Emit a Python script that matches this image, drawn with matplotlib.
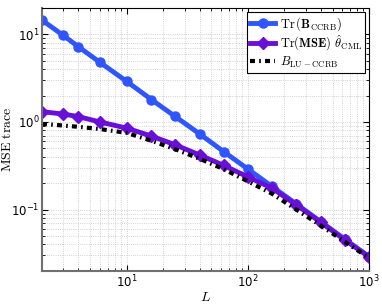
import matplotlib
matplotlib.use("Agg")
import matplotlib.pyplot as plt
from matplotlib.font_manager import FontProperties

# numero de amostras L
L = [2, 3, 4, 6, 10, 16, 25, 40, 63, 100, 158, 251, 398, 631, 1000]
# Tr(B_CCRB)
tr_ccrb = [14.5, 9.7, 7.2, 4.8, 2.9, 1.8, 1.16, 0.73, 0.46, 0.29,
           0.184, 0.116, 0.073, 0.046, 0.029]
# Tr(MSE) do estimador CML
tr_mse_cml = [1.31, 1.23, 1.15, 1.0, 0.85, 0.69, 0.55, 0.42, 0.32, 0.236,
              0.176, 0.113, 0.072, 0.045, 0.029]
# limite LU-CCRB
b_lu_ccrb = [0.95, 0.91, 0.88, 0.83, 0.75, 0.61, 0.49, 0.38, 0.29, 0.21,
             0.152, 0.100, 0.066, 0.043, 0.028]

fig = plt.figure(figsize=(3.82, 3.05), dpi=100)
ax = fig.add_axes([0.110, 0.112, 0.856, 0.862])

ax.plot(L, tr_ccrb, color="#2f55ff", lw=3.5, marker="o", ms=6.5,
        label=r"$\mathrm{Tr}\,(\mathbf{B}_{\mathrm{CCRB}})$")
ax.plot(L, tr_mse_cml, color="#6a0fd6", lw=3.5, marker="D", ms=6,
        label=r"$\mathrm{Tr}(\mathbf{MSE})\ \hat{\mathbf{\theta}}_{\mathrm{CML}}$")
ax.plot(L, b_lu_ccrb, color="black", lw=3, linestyle=(0, (1.2, 1.0, 0.4, 1.0)),
        label=r"$B_{\mathrm{LU-CCRB}}$")

ax.set_xscale("log")
ax.set_yscale("log")
ax.set_xlim(2, 1000)
ax.set_ylim(0.02, 20)

ax.grid(True, which="both", linestyle=":", color="#c4c4c4", lw=0.6)
ax.tick_params(which="both", direction="in", top=True, right=True, labelsize=8.5, pad=2)
ax.tick_params(which="major", length=4)
ax.tick_params(which="minor", length=2)
for s in ax.spines.values():
    s.set_linewidth(0.8)
ax.spines["left"].set_color("#707070")
ax.spines["left"].set_linewidth(1.5)
ax.spines["bottom"].set_color("#707070")
ax.spines["bottom"].set_linewidth(1.5)

ax.set_xlabel(r"$L$", fontsize=10, math_fontfamily="cm", labelpad=0)
ax.set_ylabel(r"$\mathrm{MSE\ trace}$", fontsize=10, math_fontfamily="cm")
ax.yaxis.set_label_coords(-0.085, 0.5)

leg = ax.legend(loc="upper right", prop=FontProperties(size=9, math_fontfamily="cm"),
                fancybox=False, framealpha=1, edgecolor="black",
                borderaxespad=0.3, handlelength=2.0, labelspacing=0.1,
                borderpad=0.25, handletextpad=0.4)
leg.get_frame().set_linewidth(0.8)

fig.savefig("out.png", dpi=100)
